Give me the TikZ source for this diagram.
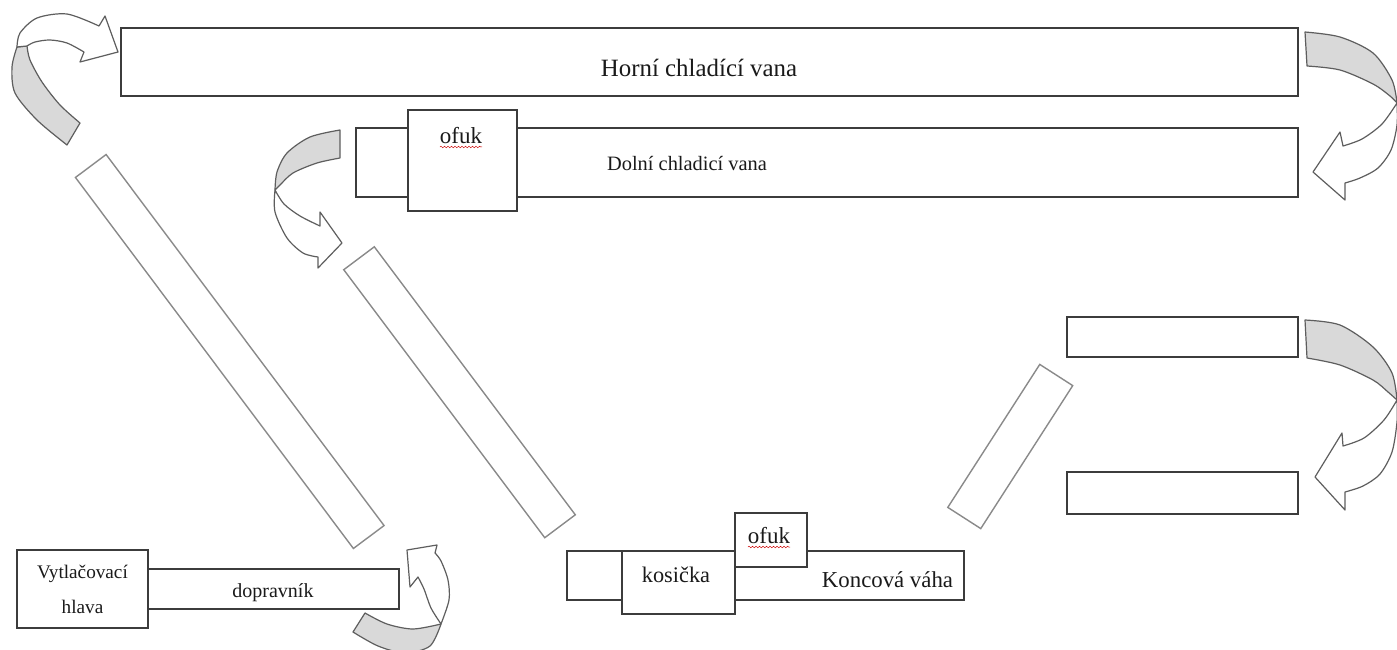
\documentclass[tikz,border=0pt]{standalone}
\usepackage{fontspec}
\setmainfont{Liberation Serif}
\usetikzlibrary{decorations.pathmorphing}
\definecolor{boxc}{HTML}{3C3C3C}
\definecolor{slc}{HTML}{8A8A8A}
\definecolor{arc}{HTML}{5E5E5E}
\definecolor{grayf}{HTML}{D9D9D9}
\definecolor{txt}{HTML}{1A1A1A}
\tikzset{
  box/.style={draw=boxc, line width=1.4pt, fill=white, inner sep=0pt, outer sep=0pt},
  slant/.style={draw=slc, line width=1.4pt, fill=white, inner sep=0pt, outer sep=0pt},
  arrw/.style={draw=arc, line width=1.2pt, fill=white, line join=round},
  arrg/.style={draw=arc, line width=1.2pt, fill=grayf, line join=round},
  lbl/.style={inner sep=0pt, outer sep=0pt, anchor=base, text=txt},
  squig/.style={draw=red!80!black, line width=0.5pt, decorate, decoration={snake, amplitude=0.8pt, segment length=3.5pt}}
}
\begin{document}
\begin{tikzpicture}[x=1pt,y=-1pt]
\useasboundingbox (0,0) rectangle (1397,650);
\clip (0,0) rectangle (1397,650);
\fill[white] (0,0) rectangle (1397,650);

% boxes
\node[box, minimum width=1177pt, minimum height=68pt] (horni) at (709.5,62) {};
\node[box, minimum width=942pt, minimum height=69pt] (dolni) at (827,162.5) {};
\node[box, minimum width=109pt, minimum height=101pt] (ofuka) at (462.5,160.5) {};
\node[box, minimum width=231pt, minimum height=40pt] (r1) at (1182.5,337) {};
\node[box, minimum width=231pt, minimum height=42pt] (r2) at (1182.5,493) {};
\node[box, minimum width=131pt, minimum height=78pt] (hlava) at (82.5,589) {};
\node[box, minimum width=251pt, minimum height=40pt] (doprav) at (273.5,589) {};
\node[box, minimum width=397pt, minimum height=49pt] (vaha) at (765.5,575.5) {};
\node[box, minimum width=113pt, minimum height=63pt] (kos) at (678.5,582.5) {};
\node[box, minimum width=72pt, minimum height=54pt] (ofukb) at (771,540) {};

% slanted chutes
\node[slant, minimum width=463.6pt, minimum height=38.3pt, rotate=-53.16] (s1) at (229.75,351.5) {};
\node[slant, minimum width=335pt, minimum height=38.2pt, rotate=-53.13] (s2) at (459.5,392.25) {};
\node[slant, minimum width=170pt, minimum height=39.2pt, rotate=57.25] (s3) at (1010.25,446.5) {};

% labels
\node[lbl, font=\fontsize{24.9pt}{30pt}\selectfont] (t1) at (699,77) {Horní chladící vana};
\node[lbl, font=\fontsize{20.4pt}{24pt}\selectfont] (t2) at (687,170) {Dolní chladicí vana};
\node[lbl, font=\fontsize{23pt}{27pt}\selectfont] (t3) at (461,143) {ofuk};
\node[lbl, font=\fontsize{23pt}{27pt}\selectfont] (t4) at (769,543) {ofuk};
\node[lbl, font=\fontsize{22.3pt}{27pt}\selectfont] (t5) at (676,582) {kosička};
\node[lbl, font=\fontsize{22.8pt}{27pt}\selectfont] (t6) at (887.5,587) {Koncová váha};
\node[lbl, font=\fontsize{19.2pt}{23pt}\selectfont] (t7) at (82.5,578) {Vytlačovací};
\node[lbl, font=\fontsize{19.2pt}{23pt}\selectfont] (t8) at (82.5,613) {hlava};
\node[lbl, font=\fontsize{20pt}{24pt}\selectfont] (t9) at (273,597) {dopravník};

\draw[squig] ([yshift=-4pt]t3.base west) -- ([yshift=-4pt]t3.base east);
\draw[squig] ([yshift=-4pt]t4.base west) -- ([yshift=-4pt]t4.base east);

% arrow 1 (top left)
\filldraw[arrg] plot[smooth] coordinates {(17,47) (12,67) (15,93) (37,120) (67,145)} -- (80,123)
  -- plot[smooth] coordinates {(80,123) (60,105) (42,82) (30,60) (27,46)} -- cycle;
\filldraw[arrw] plot[smooth] coordinates {(17,47) (20,33) (37,18) (67,14) (99,26)} -- (105,16) -- (118,52) -- (80,62) -- (84,52)
  -- plot[smooth] coordinates {(84,52) (67,43) (50,40) (35,42) (27,46)} -- cycle;

% arrow 2 (top right)
\filldraw[arrg] plot[smooth] coordinates {(1305,32) (1340,37) (1373,53) (1392,80) (1397,103)}
  -- plot[smooth] coordinates {(1397,103) (1390,96) (1373,84) (1340,70) (1307,66)} -- cycle;
\filldraw[arrw] plot[smooth] coordinates {(1397,103) (1397,125) (1391,150) (1378,168) (1360,178) (1345,183)} -- (1345,200) -- (1313,172) -- (1340,132) -- (1343,146)
  -- plot[smooth] coordinates {(1343,146) (1362,139) (1382,124) (1397,103)} -- cycle;

% arrow 4 (right, small boxes)
\filldraw[arrg] plot[smooth] coordinates {(1305,320) (1340,325) (1373,347) (1392,373) (1397,400)}
  -- plot[smooth] coordinates {(1397,400) (1388,392) (1373,380) (1340,365) (1307,358)} -- cycle;
\filldraw[arrw] plot[smooth] coordinates {(1397,400) (1397,422) (1392,452) (1380,474) (1363,486) (1345,492)} -- (1345,510) -- (1315,477) -- (1342,433) -- (1343,446)
  -- plot[smooth] coordinates {(1343,446) (1364,438) (1384,420) (1397,400)} -- cycle;

% arrow 3 (left of lower tank)
\filldraw[arrg] plot[smooth] coordinates {(340,130) (310,137) (287,153) (277,172) (275,190)}
  -- plot[smooth] coordinates {(275,190) (280,185) (293,173) (317,163) (340,158)} -- cycle;
\filldraw[arrw] plot[smooth] coordinates {(275,190) (275,212) (287,238) (303,253) (318,257)} -- (318,268) -- (342,243) -- (320,212) -- (320,226)
  -- plot[smooth] coordinates {(320,226) (300,216) (284,204) (275,190)} -- cycle;

% arrow 5 (bottom)
\filldraw[arrg] plot[smooth] coordinates {(353,632) (378,646) (405,653) (430,646) (441,624)}
  -- plot[smooth] coordinates {(441,624) (413,629) (387,624) (365,613)} -- cycle;
\filldraw[arrw] plot[smooth] coordinates {(441,624) (449,600) (448,580) (441,561) (435,553)} -- (437,545) -- (407,550) -- (410,587) -- (418,577)
  -- plot[smooth] coordinates {(418,577) (424,589) (431,608) (441,624)} -- cycle;
\end{tikzpicture}
\end{document}
